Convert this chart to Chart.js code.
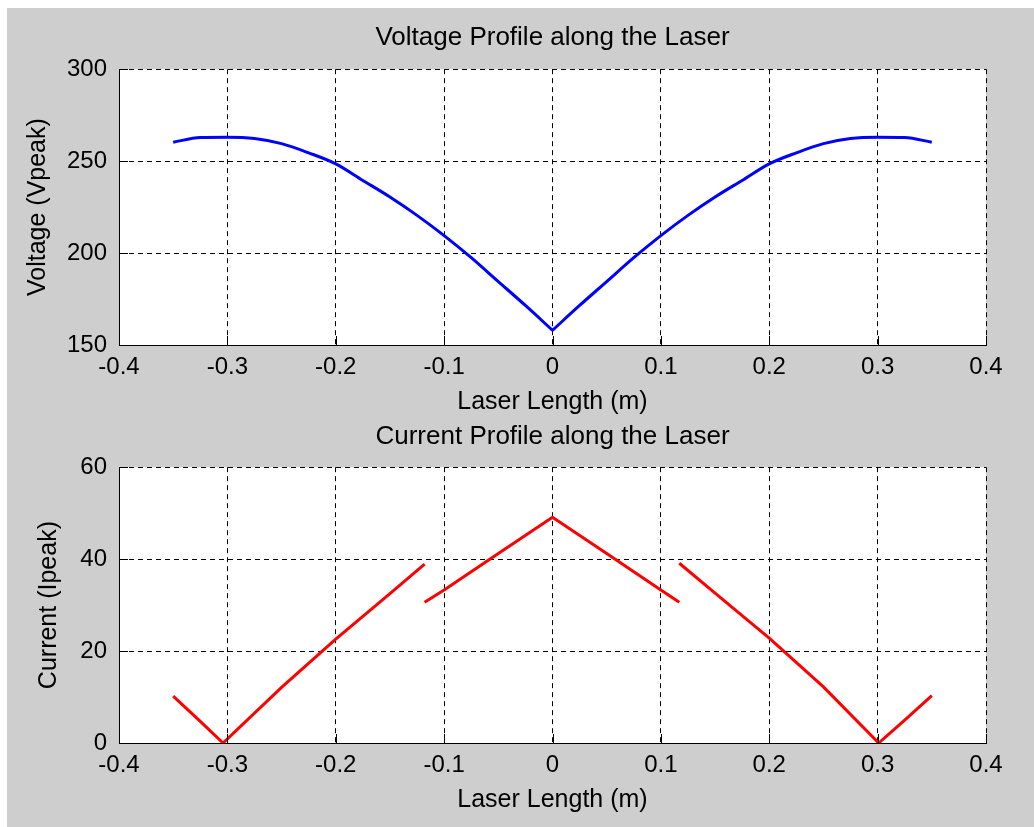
<!DOCTYPE html>
<html>
<head>
<meta charset="utf-8">
<title>Voltage and Current Profile along the Laser</title>
<script src="https://cdn.jsdelivr.net/npm/chart.js@4.4.0/dist/chart.umd.min.js"></script>
<style>
  body { margin: 0; background: #fff; width: 1034px; height: 827px; overflow: hidden; position: relative; }
  #bg { position: absolute; left: 7px; top: 8px; width: 1027px; height: 819px; background: #cecece; }
  canvas { position: absolute; left: 0; }
  #voltage { top: 0; }
  #current { top: 418px; }
</style>
</head>
<body>
<div id="bg"></div>
<canvas id="voltage" width="1034" height="418"></canvas>
<canvas id="current" width="1034" height="409"></canvas>
<script>
// positions along the laser (m)
const xTicks = [-0.4, -0.3, -0.2, -0.1, 0, 0.1, 0.2, 0.3, 0.4];
const voltTicks = [150, 200, 250, 300];
const currTicks = [0, 20, 40, 60];

// voltage profile (Vpeak), left and right half of the laser
const voltXLeft = [-0.35, -0.325, -0.3, -0.275, -0.25, -0.225, -0.2, -0.175, -0.15, -0.125, -0.1, -0.075, -0.05, -0.025, 0];
const voltYLeft = [260.3, 262.8, 263, 262.3, 259.5, 254.5, 248.5, 239.5, 230.5, 220.5, 209.5, 197.5, 184.5, 171.5, 158];
const voltXRight = [0, 0.025, 0.05, 0.075, 0.1, 0.125, 0.15, 0.175, 0.2, 0.225, 0.25, 0.275, 0.3, 0.325, 0.35];
const voltYRight = [158, 171.5, 184.5, 197.5, 209.5, 220.5, 230.5, 239.5, 248.5, 254.5, 259.5, 262.3, 263, 262.8, 260.3];

// current profile (Ipeak) - jumps at the couplers, null = break in the line
const currX = [-0.35, -0.325, -0.304, -0.25, -0.2, -0.15, -0.118, -0.118, -0.118, -0.1, -0.05, 0,
               0.05, 0.1, 0.117, 0.117, 0.117, 0.15, 0.2, 0.25, 0.301, 0.325, 0.35];
const currY = [10.2, 4.7, 0, 12.1, 22.6, 32.5, 38.9, null, 30.6, 33.3, 41.2, 49.1,
               41.2, 33.3, 30.6, null, 39.1, 32.6, 22.8, 12.2, 0, 5, 10.3];

const FONT = 'Liberation Sans, Arial, Helvetica, sans-serif';

// white plot box + inward tick marks like MATLAB
const plotFrame = {
    id: 'plotFrame',
    beforeDraw(chart) {
        const { ctx, chartArea: a } = chart;
        ctx.save();
        ctx.fillStyle = '#fff';
        ctx.fillRect(a.left, a.top, a.right - a.left, a.bottom - a.top);
        ctx.restore();
    },
    afterDraw(chart) {
        const { ctx, chartArea: a, scales: { x, y } } = chart;
        ctx.save();
        ctx.strokeStyle = '#000';
        ctx.lineWidth = 1;
        ctx.beginPath();
        x.ticks.forEach((t, i) => {
            const px = Math.round(x.getPixelForTick(i)) + 0.5;
            ctx.moveTo(px, a.bottom);
            ctx.lineTo(px, a.bottom - 9);
        });
        y.ticks.forEach((t, i) => {
            const py = Math.round(y.getPixelForTick(i)) + 0.5;
            ctx.moveTo(a.left, py);
            ctx.lineTo(a.left + 9, py);
        });
        ctx.stroke();
        ctx.restore();
    }
};

function series(xs, ys, color, smooth) {
    return {
        data: xs.map((v, i) => ({ x: v, y: ys[i] })),
        borderColor: color,
        borderWidth: 3,
        pointRadius: 0,
        fill: false,
        spanGaps: false,
        cubicInterpolationMode: smooth ? 'monotone' : 'default',
        tension: 0
    };
}

function makeProfile(canvas, opts) {
    return new Chart(canvas, {
        type: 'line',
        data: { datasets: opts.datasets },
        options: {
            responsive: false,
            animation: false,
            layout: { padding: { left: 0, right: 48, top: 0, bottom: 0 } },
            plugins: {
                legend: { display: false },
                tooltip: { enabled: false },
                title: {
                    display: true,
                    fullSize: false,
                    text: opts.title,
                    color: '#000',
                    font: { family: FONT, size: 26, weight: 'normal' },
                    padding: opts.titlePad
                }
            },
            scales: {
                x: {
                    type: 'linear',
                    min: -0.4,
                    max: 0.4,
                    afterBuildTicks: s => { s.ticks = xTicks.map(v => ({ value: v })); },
                    afterFit: s => { s.height = opts.xAxisHeight; },
                    ticks: {
                        color: '#000',
                        font: { family: FONT, size: 24 },
                        padding: 8,
                        autoSkip: false,
                        maxRotation: 0,
                        callback: v => String(Math.round(v * 10) / 10)
                    },
                    grid: { color: '#000', lineWidth: 1, drawTicks: false },
                    border: { display: true, color: '#000', width: 1, dash: [5, 4] },
                    title: {
                        display: true,
                        text: 'Laser Length (m)',
                        color: '#000',
                        font: { family: FONT, size: 25 },
                        padding: { top: 0, bottom: opts.xTitlePad }
                    }
                },
                y: {
                    type: 'linear',
                    min: opts.yTicks[0],
                    max: opts.yTicks[opts.yTicks.length - 1],
                    afterBuildTicks: s => { s.ticks = opts.yTicks.map(v => ({ value: v })); },
                    afterFit: s => { s.width = 119; },
                    ticks: {
                        color: '#000',
                        font: { family: FONT, size: 24 },
                        padding: 12
                    },
                    grid: { color: '#000', lineWidth: 1, drawTicks: false },
                    border: { display: true, color: '#000', width: 1, dash: [5, 4] },
                    title: {
                        display: true,
                        text: opts.yLabel,
                        color: '#000',
                        font: { family: FONT, size: 25 },
                        padding: { top: opts.yTitlePad, bottom: 0 }
                    }
                }
            }
        },
        plugins: [plotFrame]
    });
}

makeProfile(document.getElementById('voltage'), {
    datasets: [
        series(voltXLeft, voltYLeft, '#0000ff', true),
        series(voltXRight, voltYRight, '#0000ff', true)
    ],
    title: 'Voltage Profile along the Laser',
    titlePad: { top: 22, bottom: 16 },
    yLabel: 'Voltage (Vpeak)', yTicks: voltTicks, yTitlePad: 23,
    xAxisHeight: 73, xTitlePad: 1
});

makeProfile(document.getElementById('current'), {
    datasets: [series(currX, currY, '#ff0000', false)],
    title: 'Current Profile along the Laser',
    titlePad: { top: 3, bottom: 15 },
    yLabel: 'Current (Ipeak)', yTicks: currTicks, yTitlePad: 34,
    xAxisHeight: 84, xTitlePad: 12
});
</script>
</body>
</html>
